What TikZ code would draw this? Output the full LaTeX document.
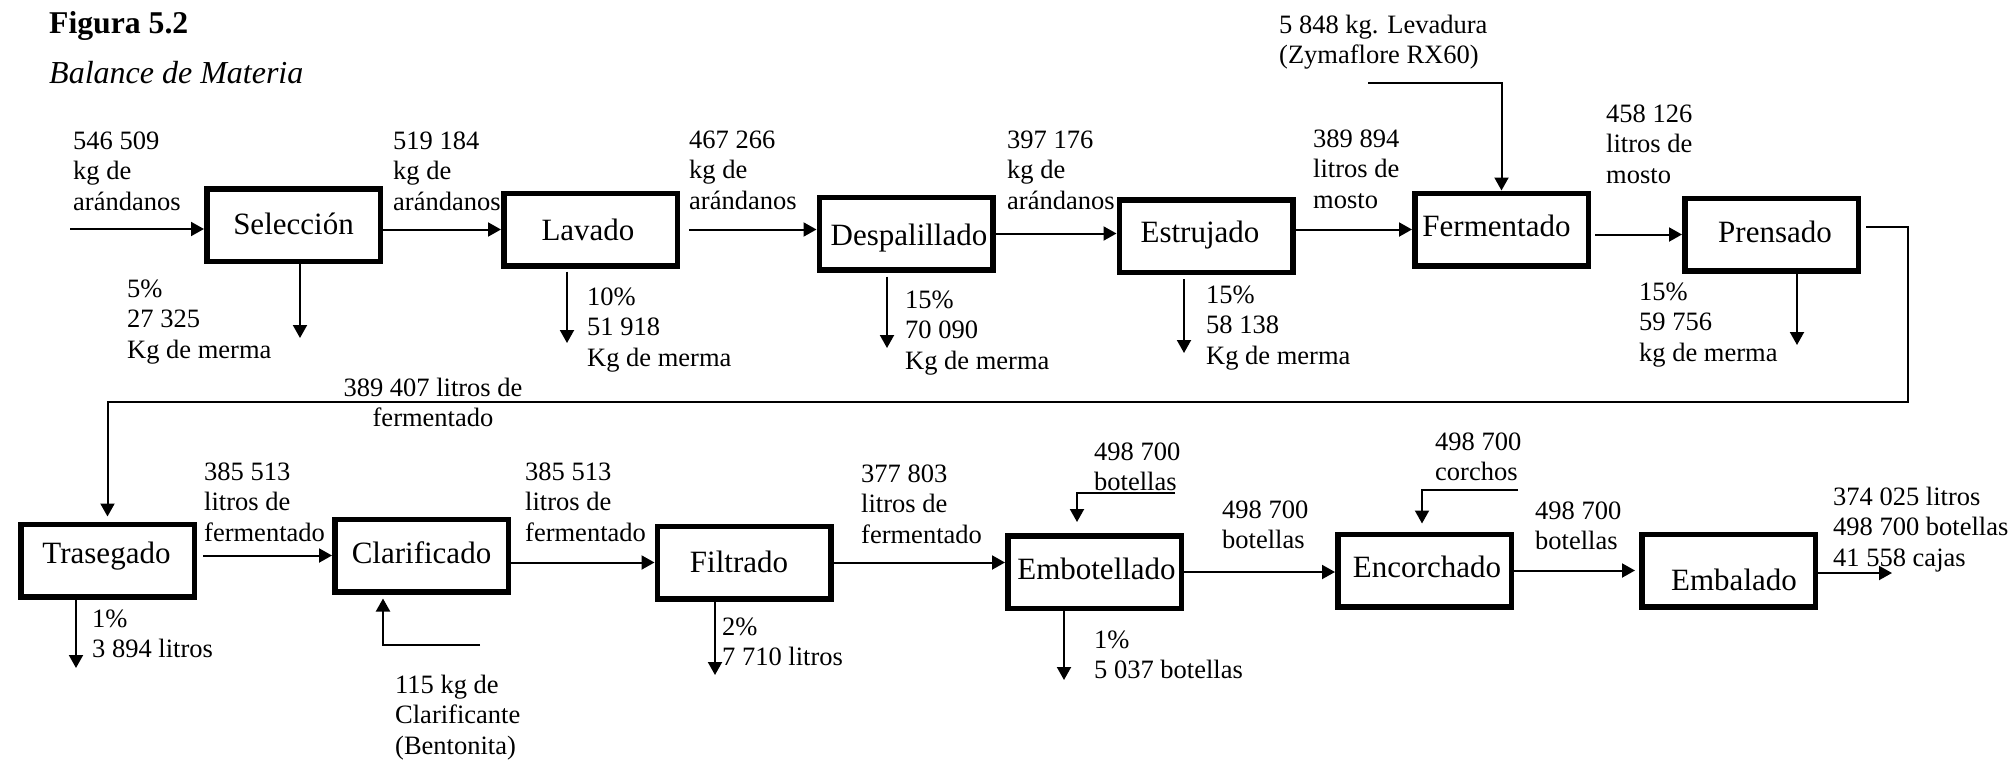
\documentclass[tikz,border=0pt]{standalone}
\usepackage{fontspec}
\setmainfont{Liberation Serif}
\usetikzlibrary{arrows.meta}
\begin{document}
\begin{tikzpicture}[x=1pt,y=-1pt,
  box/.style={draw, line width=5.5pt, minimum width=173.5pt, minimum height=72.5pt, inner sep=0pt},
  boxtext/.style={inner sep=0pt, anchor=base, font=\fontsize{31}{35}\selectfont},
  qty/.style={inner sep=0pt, anchor=base west, align=left, font=\fontsize{26.5}{30.5}\selectfont},
  flow/.style={line width=2pt, -{Triangle[width=14pt,length=13pt]}}]
\useasboundingbox (0,0) rectangle (2011,763);

% caption
\node[inner sep=0pt, anchor=base west, font=\fontsize{31.7}{35}\selectfont\bfseries] (fig) at (49,33) {Figura 5.2};
\node[inner sep=0pt, anchor=base west, font=\fontsize{32}{36}\selectfont\itshape] (sub) at (49,83) {Balance de Materia};

% process boxes, first row
\node[box] (sel) at (293.5,225) {};
\node[boxtext] (selt) at (293.5,234) {Selección};
\node[box] (lav) at (590.5,229.5) {};
\node[boxtext] (lavt) at (588,240) {Lavado};
\node[box] (desp) at (906,233.5) {};
\node[boxtext] (despt) at (909,245) {Despalillado};
\node[box] (estr) at (1206,236) {};
\node[boxtext] (estrt) at (1200,242) {Estrujado};
\node[box] (ferm) at (1501.5,229.5) {};
\node[boxtext] (fermt) at (1496.5,236) {Fermentado};
\node[box] (prens) at (1771.5,234.5) {};
\node[boxtext] (prenst) at (1775,242) {Prensado};

% process boxes, second row
\node[box] (tras) at (107.5,560.5) {};
\node[boxtext] (trast) at (106.5,563) {Trasegado};
\node[box] (clar) at (421.5,555.5) {};
\node[boxtext] (clart) at (421.5,563) {Clarificado};
\node[box] (filt) at (744,562.5) {};
\node[boxtext] (filtt) at (739,572) {Filtrado};
\node[box] (embot) at (1094.5,572) {};
\node[boxtext] (embott) at (1096.5,579) {Embotellado};
\node[box] (encor) at (1424.5,570.5) {};
\node[boxtext] (encort) at (1427,577) {Encorchado};
\node[box] (embal) at (1728.5,570.5) {};
\node[boxtext] (embalt) at (1734,590) {Embalado};

% stream quantities (anchored at the baseline of their last line)
\node[qty] (q1) at (73,210) {546 509\\kg de\\arándanos};
\node[qty] (q2) at (393,210) {519 184\\kg de\\arándanos};
\node[qty] (q3) at (689,209) {467 266\\kg de\\arándanos};
\node[qty] (q4) at (1007,209) {397 176\\kg de\\arándanos};
\node[qty] (q5) at (1313,208) {389 894\\litros de\\mosto};
\node[qty] (q6) at (1606,183) {458 126\\litros de\\mosto};
\node[qty] (q7) at (1279,63.5) {5 848 kg. Levadura\\(Zymaflore RX60)};
\node[qty, anchor=base, align=center] (q8) at (433,426.5) {389 407 litros de\\fermentado};
\node[qty] (q9) at (204,541) {385 513\\litros de\\fermentado};
\node[qty] (q10) at (525,541) {385 513\\litros de\\fermentado};
\node[qty] (q11) at (861,543) {377 803\\litros de\\fermentado};
\node[qty] (q12) at (1094,490.5) {498 700\\botellas};
\node[qty] (q13) at (1222,548.5) {498 700\\botellas};
\node[qty] (q14) at (1435,480.5) {498 700\\corchos};
\node[qty] (q15) at (1535,549.5) {498 700\\botellas};
\node[qty] (q16) at (1833,566) {374 025 litros\\498 700 botellas\\41 558 cajas};
\node[qty] (q17) at (395,754) {115 kg de\\Clarificante\\(Bentonita)};

% losses
\node[qty] (m1) at (127,358) {5\%\\27 325\\Kg de merma};
\node[qty] (m2) at (587,366) {10\%\\51 918\\Kg de merma};
\node[qty] (m3) at (905,369) {15\%\\70 090\\Kg de merma};
\node[qty] (m4) at (1206,364) {15\%\\58 138\\Kg de merma};
\node[qty] (m5) at (1639,361) {15\%\\59 756\\kg de merma};
\node[qty] (m6) at (92,657.5) {1\%\\3 894 litros};
\node[qty] (m7) at (722,665.5) {2\%\\7 710 litros};
\node[qty] (m8) at (1094,678.5) {1\%\\5 037 botellas};

% main line, first row
\coordinate (feed) at (70,229);
\draw[flow] (feed) -- (feed -| sel.west);
\draw[flow] (lav.west -| sel.east) -- (lav.west);
\draw[flow, shorten <=9pt] (lav.east) -- (lav.east -| desp.west);
\draw[flow] (desp.east) -- (desp.east -| estr.west);
\draw[flow] (ferm.west -| estr.east) -- (ferm.west);
\draw[flow, shorten <=4pt] (prens.west -| ferm.east) -- (prens.west);
\coordinate (yeast) at (1368,83);
\draw[flow] (yeast) -| (ferm.north);

% waste streams, first row
\coordinate (w1) at (300,338);
\draw[flow] (sel.south -| w1) -- (w1);
\coordinate (w2) at (567,343);
\draw[flow, shorten <=3pt] (lav.south -| w2) -- (w2);
\coordinate (w3) at (887,348);
\draw[flow, shorten <=4pt] (desp.south -| w3) -- (w3);
\coordinate (w4) at (1184,353);
\draw[flow, shorten <=4pt] (estr.south -| w4) -- (w4);
\coordinate (w5) at (1797,345);
\draw[flow] (prens.south -| w5) -- (w5);

% return to the second row
\coordinate (turn) at (1908,402);
\draw[flow, shorten <=5pt, shorten >=5pt] ([yshift=7.5pt]prens.east) -| (turn) -| (tras.north);

% main line, second row
\draw[flow, shorten <=6pt] (clar.west -| tras.east) -- (clar.west);
\draw[flow] (filt.west -| clar.east) -- (filt.west);
\draw[flow] (filt.east) -- (filt.east -| embot.west);
\draw[flow] (embot.east) -- (embot.east -| encor.west);
\draw[flow, shorten >=4pt] (encor.east) -- (encor.east -| embal.west);
\coordinate (out) at (1892,573);
\draw[flow] (embal.east |- out) -- (out);

% additions, second row
\coordinate (bent) at (480,645);
\draw[flow, shorten >=4pt] (bent) -| ([xshift=-38.5pt]clar.south);
\coordinate (bot) at (1175,493);
\draw[flow, shorten >=11pt] (bot) -| ([xshift=-17.5pt]embot.north);
\coordinate (cork) at (1518,490);
\draw[flow, shorten >=8pt] (cork) -| ([xshift=-2.5pt]encor.north);

% waste streams, second row
\coordinate (w6) at (76,668);
\draw[flow] (tras.south -| w6) -- (w6);
\coordinate (w7) at (715,675);
\draw[flow] (filt.south -| w7) -- (w7);
\coordinate (w8) at (1064,680);
\draw[flow] (embot.south -| w8) -- (w8);
\end{tikzpicture}
\end{document}
